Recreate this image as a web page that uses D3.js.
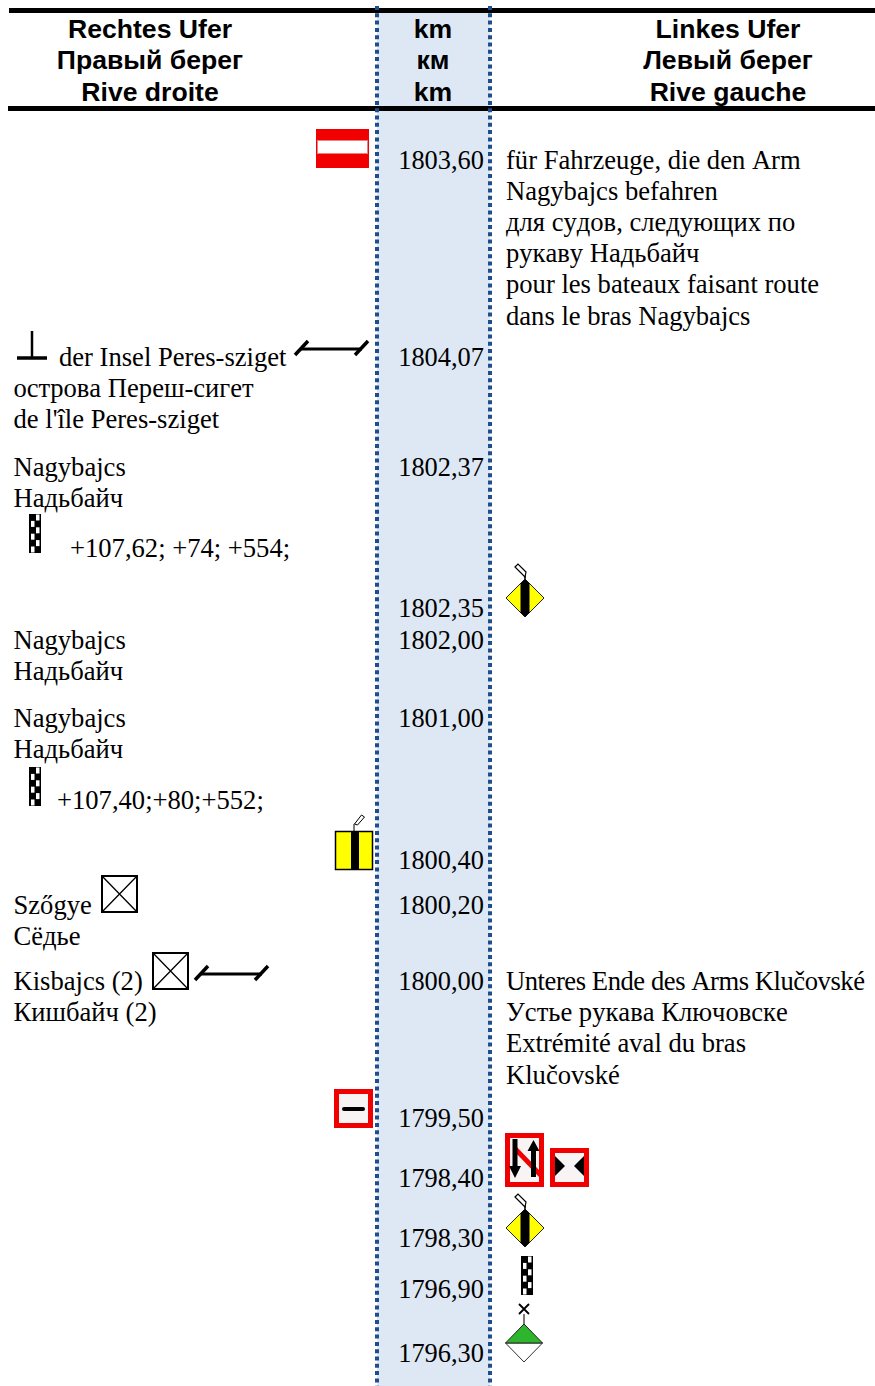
<!DOCTYPE html>
<html>
<head>
<meta charset="utf-8">
<script src="https://cdn.jsdelivr.net/npm/d3@7"></script>
<style>
  html, body { margin: 0; padding: 0; background: #fff; overflow: hidden; }
  svg { display: block; }
  .head { font-family: "Liberation Sans", Arial, sans-serif; font-weight: bold; font-size: 26.6px; text-anchor: middle; fill: #000; }
  .body { font-family: "Liberation Serif", "Times New Roman", serif; font-size: 26.6px; fill: #000; font-kerning: none; }
  .km { font-size: 26.4px; }
</style>
</head>
<body>
<div id="chart"></div>
<script>
var headerRight = ['Rechtes Ufer', 'Правый берег', 'Rive droite']
var headerKm = ['km', 'км', 'km']
var headerLeft = ['Linkes Ufer', 'Левый берег', 'Rive gauche']

var kmValues = ['1803,60', '1804,07', '1802,37', '1802,35', '1802,00', '1801,00', '1800,40',
  '1800,20', '1800,00', '1799,50', '1798,40', '1798,30', '1796,90', '1796,30']

var rightBankKm = ['1804,07', '1802,37', '1802,00', '1801,00', '1800,20', '1800,00']
var rightBankNotes = [
  ['der Insel Peres-sziget', 'острова Переш-сигет', "de l'île Peres-sziget"],
  ['Nagybajcs', 'Надьбайч', '+107,62; +74; +554;'],
  ['Nagybajcs', 'Надьбайч'],
  ['Nagybajcs', 'Надьбайч', '+107,40;+80;+552;'],
  ['Szőgye', 'Сёдье'],
  ['Kisbajcs (2)', 'Кишбайч (2)']
]

var leftBankKm = ['1803,60', '1800,00']
var leftBankNotes = [
  ['für Fahrzeuge, die den Arm', 'Nagybajcs befahren', 'для судов, следующих по', 'рукаву Надьбайч',
    'pour les bateaux faisant route', 'dans le bras Nagybajcs'],
  ['Unteres Ende des Arms Klučovské', 'Устье рукава Ключовске', 'Extrémité aval du bras', 'Klučovské']
]

var width = 875
var height = 1386
var lineHeight = 31.2

var y = d3.scaleOrdinal()
  .domain(kmValues)
  .range([168.6, 366, 475.6, 617, 648.6, 727, 869, 914, 990, 1127, 1186.6, 1246.6, 1298, 1362])

var svg = d3.select('#chart').append('svg')
  .attr('width', width)
  .attr('height', height)

// km column
svg.append('rect')
  .attr('x', 377).attr('y', 13)
  .attr('width', 113).attr('height', height - 13)
  .attr('fill', '#dee8f5')

// rules
svg.append('rect').attr('x', 9).attr('y', 8).attr('width', width - 9).attr('height', 5).attr('fill', '#000')
svg.append('rect').attr('x', 8).attr('y', 106).attr('width', width - 8).attr('height', 5).attr('fill', '#000')

svg.selectAll('.dots')
  .data([377, 490])
  .enter()
  .append('line')
  .attr('class', 'dots')
  .attr('x1', function (d) { return d })
  .attr('x2', function (d) { return d })
  .attr('y1', 6)
  .attr('y2', height)
  .attr('stroke', '#1f4e8c')
  .attr('stroke-width', 4)
  .attr('stroke-dasharray', '4 3.3')

function headerBlock (lines, cx) {
  svg.selectAll(null)
    .data(lines)
    .enter()
    .append('text')
    .attr('class', 'head')
    .attr('x', cx)
    .attr('y', function (d, i) { return [38, 69, 101][i] })
    .text(function (d) { return d })
}
headerBlock(headerRight, 150)
headerBlock(headerKm, 433)
headerBlock(headerLeft, 728)

svg.selectAll('.km')
  .data(kmValues)
  .enter()
  .append('text')
  .attr('class', 'body km')
  .attr('x', 484)
  .attr('y', function (d) { return y(d) })
  .attr('text-anchor', 'end')
  .text(function (d) { return d })

// some lines start after an icon
var indents = {
  'der Insel Peres-sziget': 59,
  '+107,62; +74; +554;': 70,
  '+107,40;+80;+552;': 57
}

function noteBlock (kms, notes, x0) {
  kms.forEach(function (km, k) {
    svg.selectAll(null)
      .data(notes[k])
      .enter()
      .append('text')
      .attr('class', 'body')
      .attr('x', function (d) { return indents[d] || x0 })
      .attr('y', function (d, i) { return y(km) + i * lineHeight + (d[0] === '+' ? 19.2 : 0) })
      .attr('textLength', function (d) { return d.indexOf('Unteres') === 0 ? 359 : null })
      .text(function (d) { return d })
  })
}
noteBlock(rightBankKm, rightBankNotes, 13.5)
noteBlock(leftBankKm, leftBankNotes, 506)

// --- signs ---
function noEntry (x, y0) {
  var g = svg.append('g').attr('transform', 'translate(' + x + ',' + y0 + ')')
  g.append('rect').attr('width', 53).attr('height', 39).attr('fill', '#f00000')
  g.append('rect').attr('x', 1.5).attr('y', 11.5).attr('width', 50).attr('height', 13)
    .attr('fill', '#fff').attr('stroke', '#f08080').attr('stroke-width', 1)
}

function bridgeSpan (x, y0) {
  var g = svg.append('g').attr('transform', 'translate(' + x + ',' + y0 + ')')
    .attr('stroke', '#000').attr('fill', 'none')
  g.append('line').attr('x1', 6).attr('x2', 67).attr('y1', 8).attr('y2', 8).attr('stroke-width', 3)
  g.append('line').attr('x1', 0).attr('y1', 14).attr('x2', 13).attr('y2', 0).attr('stroke-width', 3.5)
  g.append('line').attr('x1', 60).attr('y1', 14).attr('x2', 73).attr('y2', 0).attr('stroke-width', 3.5)
}

function perpendicular (x, y0) {
  var g = svg.append('g').attr('transform', 'translate(' + x + ',' + y0 + ')').attr('stroke', '#000')
  g.append('line').attr('x1', 15).attr('x2', 15).attr('y1', 0).attr('y2', 27).attr('stroke-width', 2.5)
  g.append('line').attr('x1', 0).attr('x2', 30).attr('y1', 27).attr('y2', 27).attr('stroke-width', 3.5)
}

function checker (x, y0) {
  var g = svg.append('g').attr('transform', 'translate(' + x + ',' + y0 + ')')
  g.append('rect').attr('width', 12).attr('height', 39).attr('fill', '#000')
  d3.range(6).forEach(function (r) {
    g.append('rect')
      .attr('x', r % 2 === 0 ? 7 : 2)
      .attr('y', 0.5 + r * 6.4)
      .attr('width', 3.5)
      .attr('height', 6)
      .attr('fill', '#fff')
  })
}

function flag (g, cx, topY) {
  g.append('line').attr('x1', cx).attr('x2', cx).attr('y1', topY + 8).attr('y2', topY + 16)
    .attr('stroke', '#000').attr('stroke-width', 1.5)
  g.append('path').attr('d', 'M' + (cx - 10) + ',' + (topY + 3) + 'l3,-3l8,8l-1,5z')
    .attr('fill', '#fff').attr('stroke', '#000').attr('stroke-width', 1.2)
}

function yellowDiamond (cx, cy) {
  var g = svg.append('g')
  flag(g, cx, cy - 34)
  g.append('path').attr('d', 'M' + cx + ',' + (cy - 19) + 'l19,19l-19,19l-19,-19z')
    .attr('fill', '#ffff00').attr('stroke', '#222').attr('stroke-width', 1)
  g.append('path').attr('d', 'M' + (cx - 4.5) + ',' + (cy - 14.5) + 'l4.500,-4.500l4.500,4.500v29l-4.500,4.500l-4.500,-4.500z').attr('fill', '#000')
}

function yellowBox (x, y0) {
  var g = svg.append('g').attr('transform', 'translate(' + x + ',' + y0 + ')')
  g.append('rect').attr('x', 0.5).attr('y', 0.5).attr('width', 37).attr('height', 38)
    .attr('fill', '#ffff00').attr('stroke', '#000').attr('stroke-width', 1.5)
  g.append('rect').attr('x', 16).attr('y', 0).attr('width', 8).attr('height', 39).attr('fill', '#000')
  g.append('line').attr('x1', 19).attr('x2', 19).attr('y1', 0).attr('y2', -7).attr('stroke', '#000').attr('stroke-width', 1)
  g.append('path').attr('d', 'M19.5,-7l7,-9l3,2l-7,8z').attr('fill', '#fff').attr('stroke', '#000').attr('stroke-width', 1)
}

function crossBox (x, y0) {
  var g = svg.append('g').attr('transform', 'translate(' + x + ',' + y0 + ')')
    .attr('stroke', '#000').attr('fill', '#fff')
  g.append('rect').attr('x', 1).attr('y', 1).attr('width', 35).attr('height', 36).attr('stroke-width', 2)
  g.append('path').attr('d', 'M1,1L36,37M36,1L1,37').attr('fill', 'none').attr('stroke-width', 1.3)
}

function redSign (x, y0, w, h) {
  var g = svg.append('g').attr('transform', 'translate(' + x + ',' + y0 + ')')
  g.append('rect').attr('x', 2.5).attr('y', 2.5).attr('width', w - 5).attr('height', h - 5)
    .attr('fill', '#f8f4f4').attr('stroke', '#f00000').attr('stroke-width', 5)
  return g
}

function greenDiamond (cx, cy) {
  var g = svg.append('g')
  g.append('line').attr('x1', cx).attr('x2', cx).attr('y1', cy - 19).attr('y2', cy - 29)
    .attr('stroke', '#222').attr('stroke-width', 1.2)
  g.append('path').attr('d', 'M' + (cx - 5) + ',' + (cy - 39) + 'l10,10m0,-10l-10,10')
    .attr('stroke', '#000').attr('stroke-width', 1.8)
  g.append('path').attr('d', 'M' + (cx - 18.5) + ',' + cy + 'l18.5,19l18.5,-19z')
    .attr('fill', '#fff').attr('stroke', '#333').attr('stroke-width', 1)
  g.append('path').attr('d', 'M' + (cx - 18.5) + ',' + cy + 'l18.5,-19l18.5,19z')
    .attr('fill', '#2db52d').attr('stroke', '#222').attr('stroke-width', 1)
}

noEntry(316, 129)
perpendicular(17, 331)
bridgeSpan(295, 341)
checker(29, 514)
yellowDiamond(525, 598)
checker(29, 767)
yellowBox(335, 831)
crossBox(101, 875)
crossBox(152, 952)
bridgeSpan(195, 966)

var minus = redSign(334, 1089, 39, 39)
minus.append('rect').attr('x', 8).attr('y', 18).attr('width', 23).attr('height', 4).attr('rx', 2).attr('fill', '#000')

var nSign = redSign(505, 1133, 39, 54)
nSign.append('path').attr('d', 'M8,10L34,37L34,44L8,17z').attr('fill', '#f00000')
nSign.append('path').attr('d', 'M7.500,6h5v27h3.500l-6,12l-6,-12h3.500z').attr('fill', '#000')
nSign.append('path').attr('d', 'M26,44h5v-26h3.500l-6,-11l-6,11h3.500z').attr('fill', '#000')

var narrows = redSign(550, 1148, 39, 39)
narrows.append('path').attr('d', 'M5,8L15,18L5,28z').attr('fill', '#000')
narrows.append('path').attr('d', 'M34,8L24,18L34,28z').attr('fill', '#000')

yellowDiamond(525, 1228)
checker(521, 1256)
greenDiamond(524, 1343)
</script>
</body>
</html>
